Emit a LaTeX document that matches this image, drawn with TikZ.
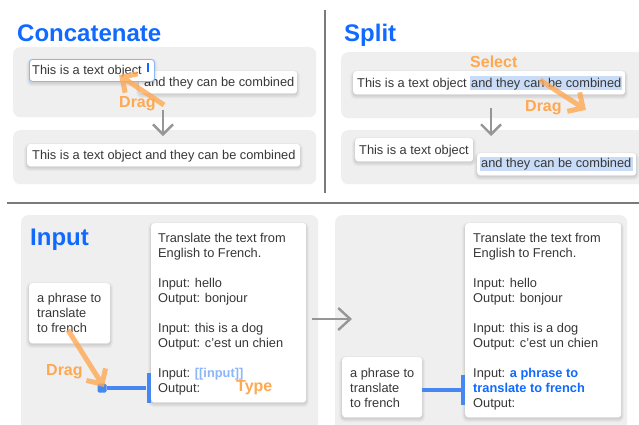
\documentclass[tikz,border=0pt]{standalone}
\usepackage{fontspec}
\setmainfont{Liberation Sans}
\usetikzlibrary{arrows.meta,calc}
\definecolor{tblue}{RGB}{16,106,255}
\definecolor{torange}{RGB}{255,168,82}
\definecolor{tgray}{RGB}{55,55,55}
\definecolor{panelgray}{RGB}{239,239,239}
\definecolor{hlblue}{RGB}{200,220,248}
\definecolor{conblue}{RGB}{70,136,240}
\definecolor{lightblue}{RGB}{140,182,246}
\definecolor{divgray}{RGB}{122,122,122}
\definecolor{arrgray}{RGB}{150,150,150}
\newcommand\regfont{\fontsize{12.8}{15}\selectfont}
\begin{document}
\begin{tikzpicture}[x=1pt,y=-1pt,
  panel/.style={fill=panelgray, rounded corners=7pt, inner sep=0pt, anchor=north west},
  softshadow/.style={
    preaction={draw=black, draw opacity=0.03, line width=6pt, transform canvas={yshift=-2pt}},
    preaction={draw=black, draw opacity=0.045, line width=3.5pt, transform canvas={yshift=-2pt}},
    preaction={draw=black, draw opacity=0.06, line width=1.5pt, transform canvas={yshift=-1.5pt}}},
  tbox/.style={fill=white, rounded corners=3pt, inner sep=0pt, anchor=north west, softshadow},
  hl/.style={fill=hlblue, inner sep=0pt, anchor=north west},
  txt/.style={anchor=base west, inner sep=0pt, font=\regfont, text=tgray},
  title/.style={anchor=base west, inner sep=0pt, font=\fontsize{24}{28}\selectfont\bfseries, text=tblue},
  lbl/.style={anchor=base west, inner sep=0pt, font=\fontsize{16}{18}\selectfont\bfseries, text=torange},
  gesture/.style={draw=torange, line width=5pt, opacity=0.8, line join=miter},
  flow/.style={draw=arrgray, line width=2.4pt, -{Straight Barb[length=10pt,width=20pt]}},
  bigflow/.style={draw=arrgray, line width=2.4pt, -{Straight Barb[length=12pt,width=22pt]}},
  con/.style={draw=conblue, line width=4pt},
  bar/.style={fill=conblue, inner sep=0pt, minimum width=4pt},
]
\useasboundingbox (0,0) rectangle (639,424);
\fill[white] (0,0) rectangle (639,424);

% dividers
\coordinate (vd1) at (325,10); \coordinate (vd2) at (325,193);
\coordinate (hd1) at (7,203); \coordinate (hd2) at (639,203);
\draw[divgray, line width=2pt] (vd1) -- (vd2);
\draw[divgray, line width=2pt] (hd1) -- (hd2);

% ---------- Concatenate ----------
\node[title] (tcon) at (17,41) {Concatenate};
\node[panel, minimum width=303pt, minimum height=70pt] (cp1) at (13,47) {};
\node[panel, minimum width=303pt, minimum height=54pt] (cp2) at (13,130) {};
\node[tbox, minimum width=158pt, minimum height=22pt] (cb2) at (139,71) {};
\node[txt] (cb2t) at (144,86) {and they can be combined};
\node[tbox, draw=lightblue, line width=0.9pt, minimum width=125pt, minimum height=22pt] (cb1) at (29,59) {};
\node[txt] (cb1t) at (32,74) {This is a text object};
\coordinate (cur1) at (148,63); \coordinate (cur2) at (148,72);
\draw[tblue, line width=1.8pt] (cur1) -- (cur2);
\node[tbox, minimum width=273pt, minimum height=22pt] (cb3) at (27,144) {};
\node[txt] (cb3t) at (32,159) {This is a text object and they can be combined};
\coordinate (ca1) at (163,110); \coordinate (ca2) at (163,136);
\draw[flow] (ca1) -- (ca2);
\coordinate (cdt) at (164,105); \coordinate (cdh) at (122,77);
\draw[gesture] (cdt) -- (cdh) ($(cdh)!16pt!45:(cdt)$) -- (cdh) -- ($(cdh)!16pt!-45:(cdt)$);
\node[lbl] (cdrag) at (119,107) {Drag};

% ---------- Split ----------
\node[title] (tsplit) at (344,41) {Split};
\node[panel, minimum width=310pt, minimum height=66pt] (sp1) at (341,52) {};
\node[panel, minimum width=310pt, minimum height=54pt] (sp2) at (341,130) {};
\node[lbl] (ssel) at (470,67) {Select};
\node[tbox, minimum width=272pt, minimum height=23pt] (sb1) at (353,71) {};
\node[hl, minimum width=152pt, minimum height=14pt] (sh1) at (470,76) {};
\node[txt] (sb1a) at (357,87) {This is a text object};
\node[txt] (sb1b) at (471,87) {and they can be combined};
\coordinate (sa1) at (491,108); \coordinate (sa2) at (491,136);
\draw[flow] (sa1) -- (sa2);
\node[tbox, minimum width=118pt, minimum height=23pt] (sb2) at (355,138) {};
\node[txt] (sb2t) at (359,154) {This is a text object};
\node[tbox, minimum width=159pt, minimum height=22pt] (sb3) at (477,153) {};
\node[hl, minimum width=153pt, minimum height=14pt] (sh3) at (480,157) {};
\node[txt] (sb3t) at (481,167) {and they can be combined};
\coordinate (sdt) at (540,80); \coordinate (sdh) at (583,108);
\draw[gesture] (sdt) -- (sdh) ($(sdh)!16pt!45:(sdt)$) -- (sdh) -- ($(sdh)!16pt!-45:(sdt)$);
\node[lbl] (sdrag) at (525,111) {Drag};

% ---------- Input ----------
\node[panel, minimum width=297pt, minimum height=225pt] (ip1) at (21,215) {};
\node[panel, minimum width=292pt, minimum height=225pt] (ip2) at (335,215) {};
\node[title] (tinput) at (30,245) {Input};

% left prompt
\node[tbox, minimum width=155pt, minimum height=179pt] (pr1) at (151,223) {};
\node[txt] (pr1a) at (158,242) {Translate the text from};
\node[txt] (pr1b) at (158,257) {English to French.};
\node[txt] (pr1c) at (158,287) {Input: hello};
\node[txt] (pr1d) at (158,302) {Output: bonjour};
\node[txt] (pr1e) at (158,332) {Input: this is a dog};
\node[txt] (pr1f) at (158,347) {Output: c'est un chien};
\node[txt] (pr1g) at (158,377) {Input: \textcolor{lightblue}{\bfseries [[input]]}};
\node[txt] (pr1h) at (158,392) {Output:};
\node[lbl] (ttype) at (236,391) {Type};

% left phrase
\node[tbox, minimum width=81pt, minimum height=60pt] (ph1) at (29,283) {};
\node[txt] (ph1a) at (37,302) {a phrase to};
\node[txt] (ph1b) at (37,317) {translate};
\node[txt] (ph1c) at (37,332) {to french};

% connector left
\node[fill=conblue, rounded corners=1.5pt, inner sep=0pt, minimum size=9pt] (sq1) at (102,388) {};
\node[bar, minimum height=30pt] (bar1) at (148.5,388) {};
\draw[con] (sq1) -- (bar1);
\coordinate (idt) at (68,330); \coordinate (idh) at (102,384);
\draw[gesture] (idt) -- (idh) ($(idh)!16pt!45:(idt)$) -- (idh) -- ($(idh)!16pt!-45:(idt)$);
\node[lbl] (idrag) at (46,375) {Drag};

% big arrow
\coordinate (ba1) at (312,319); \coordinate (ba2) at (352,319);
\draw[bigflow] (ba1) -- (ba2);

% right prompt
\node[tbox, minimum width=156pt, minimum height=194pt] (pr2) at (465,223) {};
\node[txt] (pr2a) at (473,242) {Translate the text from};
\node[txt] (pr2b) at (473,257) {English to French.};
\node[txt] (pr2c) at (473,287) {Input: hello};
\node[txt] (pr2d) at (473,302) {Output: bonjour};
\node[txt] (pr2e) at (473,332) {Input: this is a dog};
\node[txt] (pr2f) at (473,347) {Output: c'est un chien};
\node[txt] (pr2g) at (473,377) {Input: \textcolor{tblue}{\bfseries a phrase to}};
\node[txt, text=tblue, font=\regfont\bfseries] (pr2h) at (473,392) {translate to french};
\node[txt] (pr2i) at (473,407) {Output:};

% right phrase
\node[tbox, minimum width=80pt, minimum height=60pt] (ph2) at (342,357) {};
\node[txt] (ph2a) at (350,377) {a phrase to};
\node[txt] (ph2b) at (350,392) {translate};
\node[txt] (ph2c) at (350,407) {to french};
\node[bar, minimum height=30pt] (bar2) at (463,390) {};
\draw[con] (ph2.east |- bar2) -- (bar2);
\end{tikzpicture}
\end{document}
